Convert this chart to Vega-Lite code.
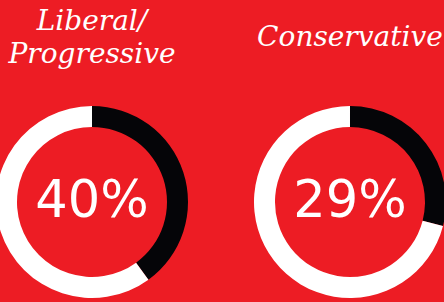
{
  "$schema": "https://vega.github.io/schema/vega-lite/v6.json",
  "width": 444,
  "height": 302,
  "autosize": {"type": "none"},
  "padding": 0,
  "background": "#ED1C24",
  "config": {"view": {"stroke": null}},
  "data": {
    "values": [
      {"group": "Liberal/Progressive", "title": "Liberal/\nProgressive", "part": "yes", "share": 0.40},
      {"group": "Liberal/Progressive", "title": "Liberal/\nProgressive", "part": "no", "share": 0.60},
      {"group": "Conservative", "title": "Conservative", "part": "yes", "share": 0.29},
      {"group": "Conservative", "title": "Conservative", "part": "no", "share": 0.71}
    ]
  },
  "encoding": {
    "x": {
      "field": "group",
      "type": "nominal",
      "scale": {"type": "point", "domain": ["Liberal/Progressive", "Conservative"], "padding": 0.3605, "align": 0.4946},
      "axis": null
    }
  },
  "layer": [
    {
      "transform": [
        {"stack": "share", "groupby": ["group"], "sort": [{"field": "part", "order": "descending"}], "as": ["s0", "s1"]}
      ],
      "mark": {"type": "arc", "radius": 96, "radius2": 75},
      "encoding": {
        "y": {"datum": "donut", "type": "nominal", "scale": {"type": "point", "domain": ["title", "donut"], "padding": 0.4207, "align": 0.2754}, "axis": null},
        "theta": {"field": "s0", "type": "quantitative", "scale": {"domain": [0, 1]}},
        "theta2": {"field": "s1"},
        "color": {"field": "part", "type": "nominal", "scale": {"domain": ["yes", "no"], "range": ["#050508", "#FFFFFF"]}, "legend": null}
      }
    },
    {
      "transform": [{"filter": "datum.part === 'yes'"}],
      "mark": {"type": "text", "font": "DejaVu Sans", "fontWeight": "normal", "fontSize": 51, "color": "#FFFFFF", "baseline": "middle", "align": "center"},
      "encoding": {
        "y": {"datum": "donut", "type": "nominal"},
        "text": {"field": "share", "type": "quantitative", "format": ".0%"}
      }
    },
    {
      "transform": [{"filter": "datum.part === 'yes'"}],
      "mark": {"type": "text", "lineBreak": "\n", "font": "DejaVu Serif", "fontStyle": "italic", "fontSize": 28, "lineHeight": 33, "color": "#FFFFFF", "baseline": {"expr": "datum.group === 'Conservative' ? 'middle' : 'line-bottom'"}, "align": "center"},
      "encoding": {
        "y": {"datum": "title", "type": "nominal"},
        "text": {"field": "title", "type": "nominal"}
      }
    }
  ]
}
